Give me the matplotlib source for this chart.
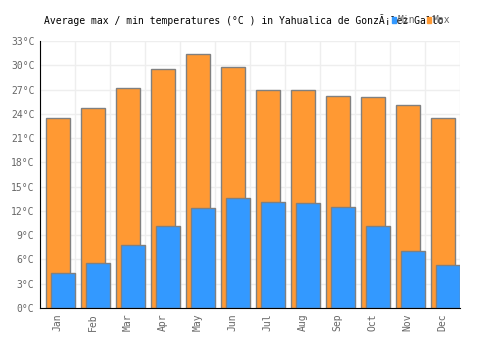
import numpy as np
import matplotlib
matplotlib.use("Agg")
import matplotlib.pyplot as plt
from matplotlib.patches import Rectangle

months = ["Jan", "Feb", "Mar", "Apr", "May", "Jun", "Jul", "Aug", "Sep", "Oct", "Nov", "Dec"]
t_max = [23.5, 24.7, 27.2, 29.5, 31.4, 29.8, 26.9, 26.9, 26.2, 26.1, 25.1, 23.5]
t_min = [4.3, 5.6, 7.8, 10.1, 12.4, 13.6, 13.1, 13.0, 12.5, 10.1, 7.0, 5.3]
yticks = list(range(0, 34, 3))

plt.rcParams["font.family"] = "DejaVu Sans Mono"
grey = "#666666"

fig = plt.figure(figsize=(5, 3.5), dpi=100)
ax = fig.add_axes([40 / 500, 42 / 350, 420 / 500, 267 / 350])

x = np.arange(len(months))
ax.bar(x + 0.01, t_max, width=0.68, color="#ff9933", edgecolor="#808080", linewidth=1, zorder=2)
ax.bar(x + 0.16, t_min, width=0.70, color="#3399ff", edgecolor="#808080", linewidth=1, zorder=3)

ax.set_xlim(-0.5, len(months) - 0.5)
ax.set_ylim(0, 33)
ax.set_yticks(yticks)
ax.set_yticklabels([f"{v}°C" for v in yticks])
ax.set_xticks(x)
ax.set_xticklabels(months, rotation=90)
ax.tick_params(axis="both", length=0, labelsize=7, colors=grey, pad=4)

# grid: horizontal at ticks, vertical at category boundaries
for v in yticks:
    ax.axhline(v, color="#eeeeee", linewidth=1, zorder=0)
for b in np.arange(-0.5, len(months) + 0.5, 1):
    ax.axvline(b, color="#eeeeee", linewidth=1, zorder=0)

for s in ["top", "right"]:
    ax.spines[s].set_visible(False)
ax.spines["left"].set_color("black")
ax.spines["bottom"].set_color("black")
ax.spines["left"].set_zorder(4)
ax.spines["bottom"].set_zorder(4)

fig.text(0.487, 1 - 20 / 350, "Average max / min temperatures (°C ) in Yahualica de GonzÃ¡lez Gallo",
         ha="center", va="center", fontsize=7, color="black")

# legend
for lx, c, lab in [(392, "#3399ff", "Min"), (427, "#ff9933", "Max")]:
    fig.patches.append(Rectangle((lx / 500, 1 - 23 / 350), 4 / 500, 6 / 350,
                                 transform=fig.transFigure, color=c, zorder=5))
    fig.text((lx + 6) / 500, 1 - 20 / 350, lab, ha="left", va="center", fontsize=7, color=grey)

plt.savefig("out.png", dpi=100)
